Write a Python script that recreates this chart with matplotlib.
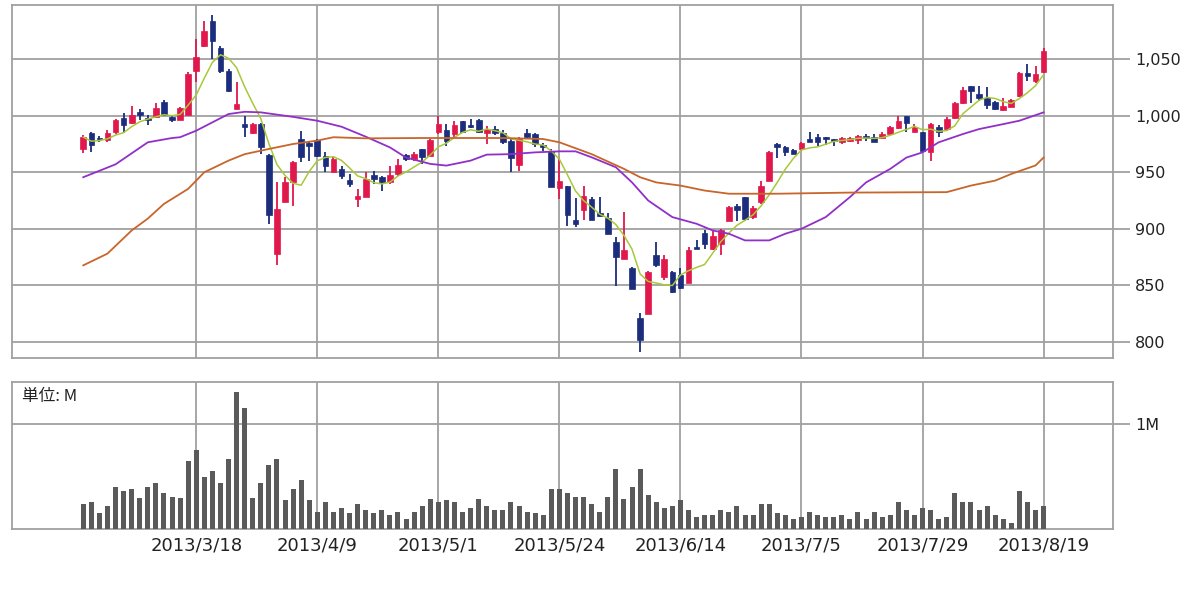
import matplotlib
matplotlib.use("Agg")
import matplotlib.pyplot as plt
from matplotlib.patches import Rectangle
import numpy as np
import pandas as pd

# ---------------- data ----------------
opens = [971, 985, 980, 978.6, 986, 997.6, 994, 1003, 997.6, 999,
         1012, 999, 996, 1000.6, 1039.4, 1062, 1084, 1060, 1040, 1006,
         993, 984.4, 992.6, 965.6, 878, 923.5, 941, 979.4, 976, 978.5,
         964.7, 950, 953, 942.7, 926.5, 928, 948, 946, 941, 948.5,
         965, 962, 970.6, 964.7, 985.3, 987.4, 983.8, 995, 992, 996,
         985, 988, 985, 978, 956, 985, 984, 974, 968.5, 936,
         937.4, 908, 916.8, 926.5, 914, 909.7, 888, 873.5, 865.6, 820.6,
         824.4, 876.5, 857.4, 862, 859, 852, 883.5, 896, 882.4, 886.8,
         906.8, 920, 928, 910.3, 923.5, 942.6, 975, 972.6, 970, 970.6,
         979.4, 980.9, 981.5, 979.4, 976.5, 978, 978.5, 982, 981, 980.3,
         983.8, 989, 1000, 986, 985.3, 967.6, 990.3, 988, 998, 1011,
         1026.5, 1019, 1016, 1011.8, 1005, 1008, 1017.6, 1038.2, 1031, 1039]
highs = [983, 986, 982, 987, 997.5, 1002, 1009, 1006, 1000.6, 1011,
         1014, 1000.6, 1008, 1039, 1068, 1084, 1088.8, 1061.8, 1041.5, 1030,
         1000, 994, 994, 966, 941, 945.6, 960.3, 986.8, 977, 979.4,
         967.6, 963.2, 955.9, 948.5, 935.3, 950, 951.5, 947, 955.9, 961.8,
         966, 968, 970.6, 979.4, 1000, 992.6, 995, 995.6, 997, 997,
         991, 991, 987, 979, 981, 988, 985, 976, 970.6, 963,
         938.2, 927.4, 937.4, 928, 928.5, 913.8, 892.6, 914.7, 866, 825.6,
         863, 888, 877, 863, 865, 884, 889.7, 898.5, 898.5, 900,
         919.7, 922, 928, 919.7, 942.6, 969, 975.6, 973.5, 970.6, 976.5,
         985.3, 983.8, 981.5, 979.4, 981, 981, 983, 984, 983.8, 985.3,
         991, 1000, 1000, 992.6, 985.3, 994, 992, 998.5, 1011.8, 1025,
         1026.5, 1026.5, 1025, 1013, 1016, 1014.7, 1039, 1045.6, 1044, 1060.3]
lows = [967, 968, 977, 977, 984, 984.7, 993, 996, 992, 997.6,
        1000.6, 994.6, 996, 1000.6, 1030, 1061, 1050.6, 1038, 1021, 1006,
        981, 984, 966, 903.8, 867.6, 923.5, 920, 959, 960, 963.5,
        950, 950, 944, 936.8, 919.2, 928, 939.7, 933, 939.7, 947,
        960, 960, 957.4, 964.7, 983.8, 973.5, 981, 985.3, 989, 985,
        975, 983, 975, 950, 951.5, 979, 972, 969, 936.8, 926.5,
        902, 901.5, 907.4, 907.4, 910, 895, 849, 873.5, 847, 791,
        824.4, 866, 855, 843, 847, 852, 882, 882.4, 881.5, 876.5,
        906.8, 907, 907, 908.8, 922, 942.6, 963, 964.7, 966, 969,
        976.5, 973.5, 974, 973.5, 975, 977, 975, 978, 976.5, 979.4,
        983.8, 988, 985.3, 985.3, 969, 960.3, 981.5, 986.8, 997, 1010,
        1011, 1013, 1006, 1005, 1004.4, 1007.4, 1016.8, 1031, 1029.4, 1038.2]
closes = [981, 974, 979, 984.4, 996, 991.8, 1000.6, 1000.6, 996, 1006.5,
          1001, 996, 1006.5, 1037, 1052, 1074.7, 1066, 1040, 1022, 1010,
          990, 993, 972, 911.8, 917.7, 941, 958.8, 963.2, 973, 964.7,
          955.9, 961.8, 947, 939.7, 929.4, 944, 944, 941, 948, 956.5,
          962, 966, 963.2, 978.5, 992.6, 978, 992, 985.3, 990, 986,
          988, 984.5, 976.5, 963, 979.4, 981, 975, 972, 936.8, 942.6,
          911.8, 903.8, 929.4, 908, 911, 895, 875, 881.5, 847, 801.5,
          861.8, 868, 873.5, 844, 848, 880.9, 882.4, 886.8, 894, 898.5,
          919, 917, 908.8, 918.5, 938.2, 967.6, 972, 967.6, 966, 975.6,
          976.5, 976.5, 979.4, 978, 980.3, 980, 982.4, 980.5, 976.5, 983.8,
          990.3, 995.6, 993.2, 990, 969, 992.6, 986, 997, 1011, 1022.6,
          1022, 1016, 1009.7, 1006, 1008.8, 1013.8, 1038.2, 1035.3, 1036.8, 1057.4]
volumes = [0.237, 0.256, 0.152, 0.222, 0.399, 0.364, 0.380, 0.294, 0.399, 0.434,
           0.348, 0.310, 0.294, 0.649, 0.753, 0.491, 0.557, 0.434, 0.665, 1.304,
           1.146, 0.294, 0.434, 0.611, 0.665, 0.275, 0.380, 0.468, 0.275, 0.168,
           0.256, 0.168, 0.203, 0.152, 0.237, 0.184, 0.152, 0.184, 0.133, 0.168,
           0.098, 0.168, 0.222, 0.291, 0.256, 0.275, 0.256, 0.168, 0.203, 0.291,
           0.222, 0.187, 0.187, 0.256, 0.222, 0.168, 0.152, 0.133, 0.380, 0.380,
           0.345, 0.310, 0.310, 0.237, 0.168, 0.310, 0.576, 0.291, 0.399, 0.576,
           0.326, 0.256, 0.203, 0.222, 0.275, 0.187, 0.114, 0.133, 0.133, 0.187,
           0.168, 0.222, 0.133, 0.133, 0.237, 0.237, 0.152, 0.133, 0.098, 0.114,
           0.168, 0.133, 0.114, 0.114, 0.133, 0.098, 0.168, 0.098, 0.168, 0.114,
           0.133, 0.256, 0.187, 0.133, 0.203, 0.187, 0.098, 0.114, 0.345, 0.256,
           0.256, 0.187, 0.222, 0.133, 0.098, 0.063, 0.364, 0.256, 0.187, 0.222]

# 25-day MA (purple) and 75-day MA (orange), read at sample days
ma25_day = [0, 4, 8, 11, 12, 14, 18, 20, 22, 26, 29, 32, 35, 38, 40, 43, 45, 48, 50, 53,
            56, 59, 61, 63, 66, 68, 70, 73, 76, 78, 80, 82, 85, 87, 89, 92, 95, 97, 100,
            102, 104, 106, 109, 111, 114, 116, 119]
ma25_val = [945.6, 957, 976.5, 980.3, 981, 986.8, 1001.5, 1003.5, 1003, 999, 995.6, 990.3,
            981.5, 972, 963, 957.4, 955.9, 960.3, 965.6, 966, 967.6, 968.5, 968.5, 963.2,
            954.4, 941, 925, 910.3, 904.4, 898.5, 895.6, 889.7, 889.7, 895.6, 900, 910.3,
            928, 941, 953, 963, 967.6, 976.5, 983.8, 988.2, 992.6, 995.6, 1003]
ma75_day = [0, 3, 6, 8, 10, 13, 15, 18, 20, 23, 26, 29, 31, 35, 42, 52, 57, 59, 63, 67,
            69, 71, 74, 77, 80, 86, 95, 107, 110, 113, 115, 118, 119]
ma75_val = [867.6, 878, 898.5, 909, 922, 935.3, 950, 960.3, 966, 970.6, 975, 978, 981,
            980, 980.3, 980.3, 979.4, 976.5, 966, 953, 945.6, 941, 938.2, 933.8, 931, 931,
            932, 932.4, 938.2, 942.6, 948.5, 956, 963]

tick_day = [14, 29, 44, 59, 74, 89, 104, 119]
tick_labels = ['2013/3/18', '2013/4/9', '2013/5/1', '2013/5/24',
               '2013/6/14', '2013/7/5', '2013/7/29', '2013/8/19']
price_ticks = [800, 850, 900, 950, 1000, 1050]
price_labels = ['800', '850', '900', '950', '1,000', '1,050']

# ---------------- styling ----------------
UP = '#e0184c'
DOWN = '#1b2d7c'
GRID = '#a0a0a0'
C_MA5 = '#a8c83a'
C_MA25 = '#9030c8'
C_MA75 = '#c8652a'
plt.rcParams['font.family'] = ['DejaVu Sans']

fig = plt.figure(figsize=(12, 5.96), dpi=100)
ax = fig.add_axes([0.01, 0.3993, 0.9175, 0.5923])
axv = fig.add_axes([0.01, 0.112, 0.9175, 0.2477])

n = len(closes)
x = np.arange(n)
xlim = (-8.83, 127.6)

# candles
bw = 0.7
for i in range(n):
    o, h, l, c = opens[i], highs[i], lows[i], closes[i]
    col = UP if c >= o else DOWN
    ax.vlines(i, l, h, color=col, linewidth=1.3, zorder=3)
    lo = min(o, c)
    hgt = max(abs(c - o), 0.9)
    ax.add_patch(Rectangle((i - bw / 2, lo), bw, hgt, facecolor=col,
                           edgecolor=col, linewidth=0.5, zorder=4))

ma5 = pd.Series(closes).rolling(5, min_periods=1).mean()
ax.plot(x, ma5, color=C_MA5, linewidth=1.1, zorder=5)
ax.plot(ma25_day, ma25_val, color=C_MA25, linewidth=1.3, zorder=5)
ax.plot(ma75_day, ma75_val, color=C_MA75, linewidth=1.3, zorder=5)

ax.set_xlim(*xlim)
ax.set_ylim(785.6, 1098)

# volume
axv.bar(x, volumes, width=0.62, color='#5a5a5a', zorder=3)
axv.set_xlim(*xlim)
axv.set_ylim(0, 1.40)

for a in (ax, axv):
    for s in a.spines.values():
        s.set_color(GRID)
        s.set_linewidth(1.3)
    a.set_xticks(tick_day)
    a.grid(True, color=GRID, linewidth=1.3, zorder=0)
    a.set_axisbelow(True)
    a.yaxis.tick_right()
    a.tick_params(axis='y', length=12, width=1.3, color=GRID, labelsize=11.5,
                  pad=4, labelcolor='#222222')
    a.tick_params(axis='x', length=0)

ax.set_yticks(price_ticks)
ax.set_yticklabels(price_labels)
ax.set_xticklabels([])

axv.set_yticks([1.0])
axv.set_yticklabels(['1M'])
axv.set_xticklabels(tick_labels, fontsize=13, color='#222222')
axv.tick_params(axis='x', pad=5)

axv.text(0.009, 0.90, '単位: M', transform=axv.transAxes, fontsize=12,
         family=['Noto Sans CJK JP', 'DejaVu Sans'], color='#222222',
         ha='left', va='center')

fig.savefig('out.png', dpi=100, facecolor='white')
